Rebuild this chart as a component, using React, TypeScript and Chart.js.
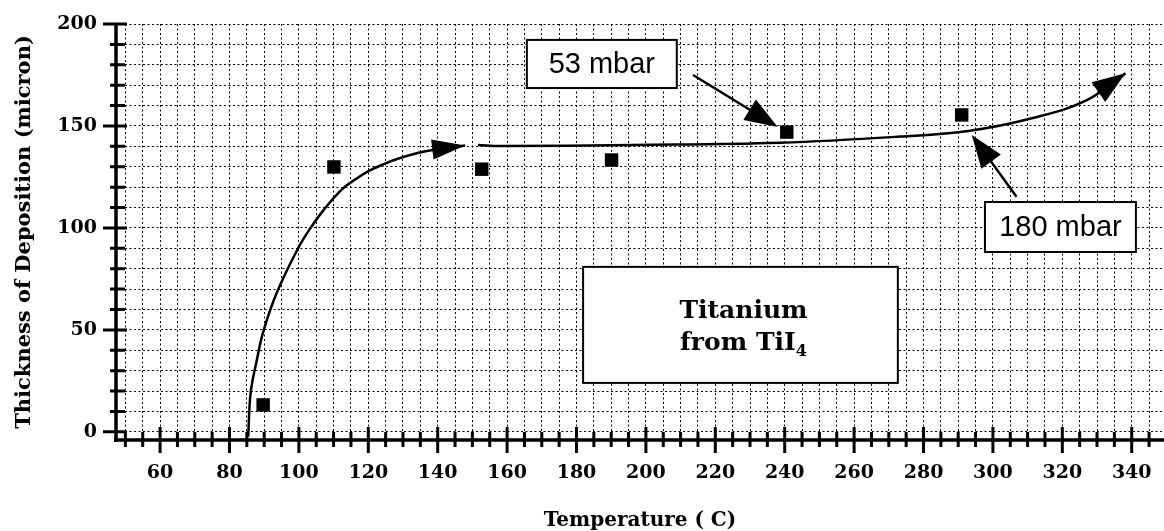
import React, { useEffect, useRef } from 'react';
import { Chart, registerables } from 'chart.js';

Chart.register(...registerables);

// Measured deposits
const temperatures = [89.7, 110.1, 152.7, 190.1, 240.6, 291.0];
const thickness = [13.2, 129.9, 128.8, 133.3, 147.0, 155.4];

// Hand-drawn trend curve (rising part)
const trend1X = [85.4, 86.1, 87.9, 89.8, 93.6, 99.8, 103.2, 107.0, 112.4, 116.2, 119.9, 124.3, 128.3, 132.6, 136.9, 142.1, 147.9];
const trend1Y = [-2.4, 19.1, 35.3, 49.5, 68.1, 90.1, 99.6, 108.5, 118.9, 123.7, 127.7, 131.2, 133.8, 136.0, 137.7, 139.2, 140.4];

// Hand-drawn trend curve (plateau part)
const trend2X = [151.6, 158.0, 196.3, 238.6, 273.2, 293.4, 311.5, 327.1, 338.2];
const trend2Y = [140.7, 140.2, 140.7, 141.8, 144.8, 147.7, 153.9, 162.7, 175.8];

// Tick labels
const xTickLabels = [60, 80, 100, 120, 140, 160, 180, 200, 220, 240, 260, 280, 300, 320, 340];
const yTickLabels = [0, 50, 100, 150, 200];

const xTitle = 'Temperature ( C)';
const yTitle = 'Thickness of Deposition (micron)';

// Callout labels (data units)
const callouts = [
  { text: '53 mbar', box: [165.7, 208.9, 192.2, 168.6], tail: [213.6, 175.0], tip: [238.0, 149.5] },
  { text: '180 mbar', box: [297.7, 341.2, 112.7, 88.2], tail: [306.8, 115.3], tip: [293.9, 145.6] },
];
const titleBox = { lines: ['Titanium', 'from TiI'], sub: '4', box: [181.9, 272.6, 80.9, 24.0] };

const SERIF = '"DejaVu Serif", serif';
const SANS = '"Liberation Sans", Arial, sans-serif';

function drawHead(ctx: CanvasRenderingContext2D, ax: number, ay: number, bx: number, by: number, len: number, half: number) {
  const ang = Math.atan2(by - ay, bx - ax);
  const c = Math.cos(ang), s = Math.sin(ang);
  const baseX = bx - len * c, baseY = by - len * s;
  ctx.beginPath();
  ctx.moveTo(bx, by);
  ctx.lineTo(baseX - half * s, baseY + half * c);
  ctx.lineTo(baseX + half * s, baseY - half * c);
  ctx.closePath();
  ctx.fill();
}

const overlayPlugin = {
  id: 'overlay',
  afterDatasetsDraw(chart: any) {
    const { ctx, chartArea, scales } = chart;
    const xs = scales.x, ys = scales.y;
    const px = (v: number) => xs.getPixelForValue(v);
    const py = (v: number) => ys.getPixelForValue(v);
    ctx.save();
    ctx.fillStyle = '#000';
    ctx.strokeStyle = '#000';

    // arrowheads at the end of trend curves
    chart.data.datasets.forEach((ds: any, i: number) => {
      if (!ds.arrowHead) return;
      const pts = chart.getDatasetMeta(i).data;
      const a = pts[pts.length - 2], b = pts[pts.length - 1];
      drawHead(ctx, a.x, a.y, b.x, b.y, ds.arrowHead[0], ds.arrowHead[1]);
    });

    // callouts
    callouts.forEach((c) => {
      const tx = px(c.tail[0]), ty = py(c.tail[1]);
      const hx = px(c.tip[0]), hy = py(c.tip[1]);
      const ang = Math.atan2(hy - ty, hx - tx);
      ctx.lineWidth = 2.5;
      ctx.beginPath();
      ctx.moveTo(tx, ty);
      ctx.lineTo(hx - 20 * Math.cos(ang), hy - 20 * Math.sin(ang));
      ctx.stroke();
      drawHead(ctx, tx, ty, hx, hy, 33, 12);

      const x0 = px(c.box[0]), x1 = px(c.box[1]), y0 = py(c.box[2]), y1 = py(c.box[3]);
      ctx.fillStyle = '#fff';
      ctx.fillRect(x0, y0, x1 - x0, y1 - y0);
      ctx.lineWidth = 2;
      ctx.strokeRect(x0, y0, x1 - x0, y1 - y0);
      ctx.fillStyle = '#000';
      ctx.font = `29px ${SANS}`;
      ctx.textAlign = 'center';
      ctx.textBaseline = 'middle';
      ctx.fillText(c.text, (x0 + x1) / 2, (y0 + y1) / 2 + 1);
    });

    // title box
    {
      const b = titleBox.box;
      const x0 = px(b[0]), x1 = px(b[1]), y0 = py(b[2]), y1 = py(b[3]);
      ctx.fillStyle = '#fff';
      ctx.fillRect(x0, y0, x1 - x0, y1 - y0);
      ctx.lineWidth = 2;
      ctx.strokeRect(x0, y0, x1 - x0, y1 - y0);
      ctx.fillStyle = '#000';
      const cx = (x0 + x1) / 2 + 3;
      const h = y1 - y0;
      ctx.textBaseline = 'alphabetic';
      ctx.font = `bold 25px ${SERIF}`;
      ctx.textAlign = 'center';
      ctx.fillText(titleBox.lines[0], cx, y0 + h * 0.44);
      const w1 = ctx.measureText(titleBox.lines[1]).width;
      ctx.font = `bold 16px ${SERIF}`;
      const w2 = ctx.measureText(titleBox.sub).width;
      const start = cx - (w1 + w2) / 2;
      ctx.textAlign = 'left';
      ctx.font = `bold 25px ${SERIF}`;
      ctx.fillText(titleBox.lines[1], start, y0 + h * 0.72);
      ctx.font = `bold 16px ${SERIF}`;
      ctx.fillText(titleBox.sub, start + w1, y0 + h * 0.72 + 6);
    }

    // axis lines
    ctx.lineWidth = 3.5;
    ctx.beginPath();
    ctx.moveTo(chartArea.left - 2, chartArea.bottom);
    ctx.lineTo(chartArea.right, chartArea.bottom);
    ctx.moveTo(chartArea.left, chartArea.top);
    ctx.lineTo(chartArea.left, chartArea.bottom + 2);
    ctx.stroke();

    // tick marks
    ctx.lineWidth = 3;
    ctx.beginPath();
    xs.ticks.forEach((t: any) => {
      const p = px(t.value);
      const major = xTickLabels.includes(t.value);
      ctx.moveTo(p, chartArea.bottom - (major ? 13 : 8));
      ctx.lineTo(p, chartArea.bottom + (major ? 13 : 7));
    });
    ys.ticks.forEach((t: any) => {
      const p = py(t.value);
      const major = yTickLabels.includes(t.value);
      ctx.moveTo(chartArea.left - (major ? 13 : 6), p);
      ctx.lineTo(chartArea.left + (major ? 11 : 9), p);
    });
    ctx.stroke();
    ctx.restore();
  },
};

export default function App() {
  const ref = useRef<HTMLCanvasElement | null>(null);
  useEffect(() => {
    if (!ref.current) return;
    const chart = new Chart(ref.current, {
      type: 'scatter',
      data: {
        datasets: [
          {
            label: 'trend1',
            data: trend1X.map((x, i) => ({ x, y: trend1Y[i] })),
            showLine: true,
            borderColor: '#000',
            borderWidth: 2.5,
            pointRadius: 0,
            tension: 0.4,
            fill: false,
            arrowHead: [33, 10],
          } as any,
          {
            label: 'trend2',
            data: trend2X.map((x, i) => ({ x, y: trend2Y[i] })),
            showLine: true,
            borderColor: '#000',
            borderWidth: 2.5,
            pointRadius: 0,
            tension: 0.4,
            fill: false,
            arrowHead: [33, 12],
          } as any,
          {
            label: 'measured',
            data: temperatures.map((x, i) => ({ x, y: thickness[i] })),
            showLine: false,
            pointStyle: 'rect',
            pointRadius: 9.5,
            backgroundColor: '#000',
            borderColor: '#000',
            borderWidth: 0,
          },
        ],
      },
      options: {
        animation: false,
        responsive: false,
        devicePixelRatio: 1,
        layout: { autoPadding: false, padding: { top: 24, right: 0, bottom: 0, left: 0 } },
        plugins: { legend: { display: false }, tooltip: { enabled: false } },
        scales: {
          x: {
            type: 'linear',
            min: 47.3,
            max: 349.3,
            afterFit: (s: any) => { s.height = 91; s.paddingLeft = 0; s.paddingRight = 0; },
            ticks: {
              stepSize: 5,
              includeBounds: false,
              autoSkip: false,
              maxRotation: 0,
              padding: 22,
              color: '#000',
              font: { family: SERIF, size: 19, weight: 'bold' },
              callback: (v: any) => (xTickLabels.includes(Number(v)) ? String(v) : ''),
            },
            grid: { color: '#000', lineWidth: 1, drawTicks: false },
            border: { display: false, dash: [2, 2.5] },
            title: {
              display: true,
              text: xTitle,
              color: '#000',
              font: { family: SERIF, size: 20, weight: 'bold', lineHeight: 1 },
              padding: { top: 0, bottom: 0 },
            },
          },
          y: {
            type: 'linear',
            min: -4,
            max: 200,
            afterFit: (s: any) => { s.width = 116; s.paddingTop = 0; s.paddingBottom = 0; },
            ticks: {
              stepSize: 10,
              includeBounds: false,
              autoSkip: false,
              padding: 19,
              color: '#000',
              font: { family: SERIF, size: 19, weight: 'bold' },
              callback: (v: any) => (yTickLabels.includes(Number(v)) ? String(v) : ''),
            },
            grid: { color: '#000', lineWidth: 1, drawTicks: false },
            border: { display: false, dash: [2, 2.5] },
            title: {
              display: true,
              text: yTitle,
              color: '#000',
              font: { family: SERIF, size: 21, weight: 'bold', lineHeight: 1.2 },
              padding: { top: 12, bottom: 0 },
            },
          },
        },
      } as any,
      plugins: [overlayPlugin],
    });
    return () => chart.destroy();
  }, []);
  return (
    <div style={{ position: 'absolute', left: 0, top: 0, width: 1164, height: 531, background: '#fff' }}>
      <canvas ref={ref} width={1164} height={531} style={{ display: 'block' }} />
    </div>
  );
}
